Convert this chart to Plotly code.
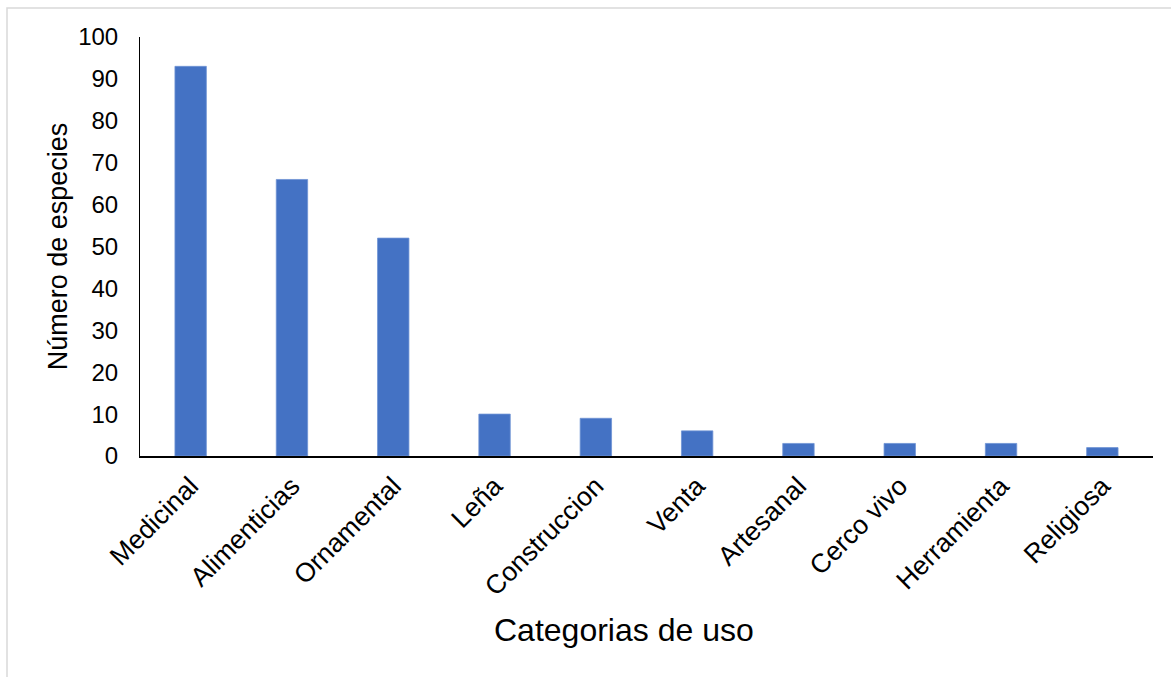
import plotly.graph_objects as go

categories = ["Medicinal", "Alimenticias", "Ornamental", "Leña", "Construccion",
              "Venta", "Artesanal", "Cerco vivo", "Herramienta", "Religiosa"]
values = [93, 66, 52, 10, 9, 6, 3, 3, 3, 2]
y_ticks = [0, 10, 20, 30, 40, 50, 60, 70, 80, 90, 100]

FONT = "Liberation Sans, Arial, sans-serif"

fig = go.Figure(go.Bar(
    x=categories, y=values,
    marker=dict(color="#4472C4", line=dict(color="#6f93d4", width=0.8)),
))

fig.update_layout(
    width=1171, height=677,
    margin=dict(l=140, r=18, t=37, b=221),
    paper_bgcolor="white", plot_bgcolor="white",
    bargap=0.69,
    showlegend=False,
    font=dict(family=FONT, color="black"),
    shapes=[dict(type="rect", xref="paper", yref="paper",
                 x0=-0.1313, x1=1.2, y0=-1.0, y1=1.069,
                 line=dict(color="#d9d9d9", width=1.5), layer="below")],
    annotations=[dict(text="Categorias de uso", xref="paper", yref="paper",
                      x=0.478, y=-0.415, xanchor="center", yanchor="middle",
                      showarrow=False, font=dict(size=32, family=FONT, color="black"))],
)

fig.update_xaxes(
    showline=True, linecolor="black", linewidth=2,
    tickangle=-45, tickfont=dict(size=26.5, family=FONT),
    ticks="", ticklabelstandoff=2,
    showgrid=False,
)
fig.update_yaxes(
    range=[0, 100], tickvals=y_ticks,
    showline=True, linecolor="black", linewidth=1,
    tickfont=dict(size=24, family=FONT), ticks="", ticklabelstandoff=16,
    title=dict(text="Número de especies", font=dict(size=27, family=FONT), standoff=2),
    showgrid=False, zeroline=False,
)

fig.write_html("out.html")
